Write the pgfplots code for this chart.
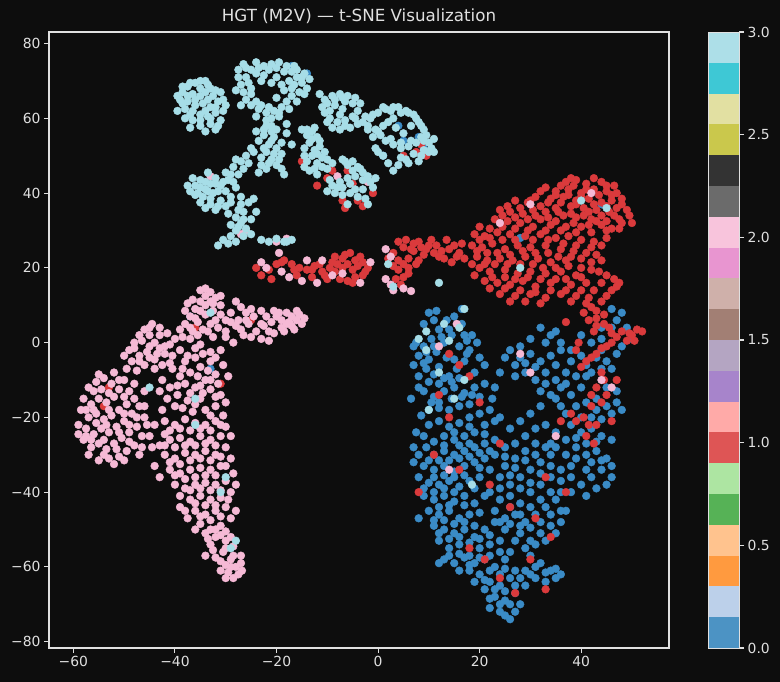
\documentclass[border=0pt]{standalone}
\usepackage{fontspec}
\setmainfont{DejaVu Sans}
\usepackage{pgfplots}
\pgfplotsset{compat=1.18}
\definecolor{bg}{HTML}{0D0D0D}
\definecolor{fg}{HTML}{E0E0E0}
\definecolor{cA}{HTML}{3A8BC6}
\definecolor{cB}{HTML}{DA3A3C}
\definecolor{cC}{HTML}{F5B9D5}
\definecolor{cD}{HTML}{A6DDE7}
\definecolor{k0}{HTML}{4C93C4}
\definecolor{k1}{HTML}{BCD0EA}
\definecolor{k2}{HTML}{FF9A3F}
\definecolor{k3}{HTML}{FFC38E}
\definecolor{k4}{HTML}{56B256}
\definecolor{k5}{HTML}{ADE5A2}
\definecolor{k6}{HTML}{DE5555}
\definecolor{k7}{HTML}{FFAAA8}
\definecolor{k8}{HTML}{A784CB}
\definecolor{k9}{HTML}{B4A5C2}
\definecolor{k10}{HTML}{A27F74}
\definecolor{k11}{HTML}{CFB0AA}
\definecolor{k12}{HTML}{E895D0}
\definecolor{k13}{HTML}{F8C4DC}
\definecolor{k14}{HTML}{6B6B6B}
\definecolor{k15}{HTML}{333333}
\definecolor{k16}{HTML}{CAC84C}
\definecolor{k17}{HTML}{E2E0A2}
\definecolor{k18}{HTML}{3EC8D5}
\definecolor{k19}{HTML}{ADDFE8}
\newcommand{\tickfont}{\fontsize{13.9bp}{16bp}\selectfont}
\pgfplotsset{
  dots/.style={only marks, mark=*, mark size=3.9bp, mark options={draw=#1, line width=0.4bp, fill=#1}},
}
\begin{document}
\begin{tikzpicture}
\fill[bg] (0,0) rectangle (780bp,682bp);
\useasboundingbox (0,0) rectangle (780bp,682bp);
\begin{axis}[
  at={(49bp,34bp)}, anchor=south west,
  scale only axis, width=620bp, height=616bp,
  xmin=-64.8, xmax=57.3, ymin=-81.7, ymax=83.1,
  axis background/.style={fill=bg},
  axis line style={fg, line width=1.1bp},
  tick style={fg, line width=1.1bp},
  tick align=outside, major tick length=4.9bp,
  xtick pos=left, ytick pos=left,
  xtick={-60,-40,-20,0,20,40},
  xticklabels={−60,−40,−20,0,20,40},
  ytick={-80,-60,-40,-20,0,20,40,60,80},
  yticklabels={−80,−60,−40,−20,0,20,40,60,80},
  ticklabel style={font=\tickfont, color=fg},
  title={HGT (M2V) — t-SNE Visualization},
  title style={font=\fontsize{16.7bp}{20bp}\selectfont, color=fg, yshift=-1bp},
  clip=false,
]
% class 0 (blue)
\addplot[dots=cA] coordinates {
(10,8)(11,6)(12,3.5)(10.5,1)(9,-1)(8,-3.5)(10,-4.5)(11.5,-2.5)(13,0)(14.5,2)(16,4.5)(15,7)(16.5,9)(13.5,-4)(12,-6.5)(9.5,-7)(8,-9)(10,-10.5)(12,-11)(14,-9)(15.5,-7)(17,-5)(18,-2)(19.5,0)(20,-4)(19,-8)
(9,-13)(11,-14.5)(13,-13)(15,-12)(17,-13.5)(19,-12)(21,-11)(20,-14.5)(18,-16.5)(16,-17)(14,-18)(12,-17.5)(10,-18)(8.5,-19.5)(10,-22)(12,-21)(14,-22.5)(16,-21.5)(18,-20)(20,-19)(22,-18)(21,-22)(19,-24)(17,-25)(15,-26)(13,-25)(11,-26.5)(9.5,-28)(11,-30)(13,-29)(15,-30)(17,-29)(19,-28)(21,-27)(23,-26)(7,-32)(9,-33)(11,-34)(13,-33)(15,-34.5)(17,-33)(19,-32)(21,-31)(8,-36)(10,-37.5)(12,-38)(14,-37)(16,-38.5)(18,-37)(20,-36)(9,-41)(11,-42)(13,-41)(15,-42.5)(17,-41)(19,-43)(21,-41)(10,-45)(12,-46)(14,-45)(16,-47)(18,-46)
(11,-49)(13,-50)(15,-51)(17,-50)(12,-53)(14,-55)(16,-54)(19,-52)(21,-50)(23,-48)(20,-55)(22,-54)(24,-53)(13,-58)(15,-59)(17,-57.5)(19,-59)(21,-58)(23,-60)(25,-58)(26,-56)(20,-62)(22,-64)(24,-65)(26,-63)(23,-68)(25,-69)(27,-67)(28,-70)(24,-72)(26,-74)(22,-71)(29,-65)(27,-61)(21,-66)(19,-64)(18,-61)
(23,-30)(25,-33)(27,-31)(29,-29)(31,-27)(24,-36)(26,-38)(28,-36)(30,-34)(32,-32)(34,-30)(22,-40)(24,-42)(26,-41)(28,-43)(30,-40)(32,-38)(34,-36)(36,-34)(23,-45)(25,-47)(27,-46)(29,-48)(31,-46)(33,-44)(35,-42)(37,-45)(28,-51)(30,-53)(32,-51)(34,-49)(36,-48)(30,-57)(32,-59)(34,-61)(33,-64)(35,-63)(29,-61)(31,-63)(26,-23)(28,-21)(30,-19)(32,-17)(24,-20)
(26,-2)(28,-4)(30,-3)(32,-5)(34,-3.5)(27,-6)(29,-8)(31,-10)(33,-8)(35,-6)(37,-8)(36,-12)(34,-14)(32,-13)(38,-14)(40,-12)(39,-9)(41,-6)(43,-4)(45,-5)(44,-2)(47,-3)(46,-7)(36,-17)(38,-22)(40,-24)(42,-23)(44,-25)(46,-26)(39,-28)(41,-30)(43,-29)(45,-31)(37,-30)(33,-22)(35,-24)(37,-26)(34,-27)(41,-16)(43,-18)(45,-17)(47,-16)(44,-34)(42,-36)(40,-38)(46,-36)(38,-40)(36,-40)
(40,2)(42,0)(44,4)(47,6)(49,4)(46,9)(34,2)(36,0)(38,-2)(30,1)(32,4)(48,-1)(50,1)(16.5,5)(17,2)(17.5,0.5)(7.5,0)
(9,5)(11.5,8.5)(13.5,6)(14,3.5)(12.5,1.5)(11,-1)(9,-5.5)(7,-6)(11,-8.5)(13,-9.5)(15,-4.5)(16,-1)(17.5,-3)(18.5,2)(21,-6)(16,-9.5)(14.5,-10.5)(8,-12)(6.5,-15)(10.5,-16)(7.5,-24)(9,-25)(7,-28)(8,-30)
(12,-16)(14.5,-15)(16.5,-14.5)(18.5,-14)(22.5,-15)(23,-21)(21,-24.5)(18,-22.5)(15,-24)(13,-27.5)(16,-27.5)(18,-27)(20,-29.5)(22,-29)(10,-31.5)(12,-31.5)(14,-31.5)(16,-31)(18,-30.5)(20,-33.5)(22,-34)(11,-36)(13,-35.5)(15,-36)(17,-35.5)(19,-39)(9,-39)(11,-40)(13,-39)(15,-40)(17,-43.5)(14,-43.5)(12,-44)(20,-45.5)(8,-47)(11,-47.5)(13,-47.5)(15,-48.5)(17,-48)(19,-49)
(12,-51)(14,-52.5)(16,-52)(18,-53.5)(20,-52.5)(22,-51.5)(25,-50)(14,-57)(16,-56.5)(18,-57)(20,-57.5)(22,-57)(24,-56)(16,-61)(12,-59)(18,-59.5)(22,-61)(24,-62)(25,-60.5)(21,-63.5)(23,-66)(25,-66.5)(27,-65)(26,-70)(24,-70)(22,-68.5)(27,-72)(25,-73)(28,-63)(30,-62)
(25,-28)(27,-27)(29,-25)(31,-23)(25,-30.5)(27,-33.5)(29,-31.5)(31,-30)(33,-28)(35,-28)(26,-35.5)(28,-39)(30,-37.5)(32,-35)(34,-33)(24,-39)(26,-44)(28,-46)(30,-44)(32,-42)(34,-40)(36,-37)(38,-36)(24,-48)(26,-48.5)(28,-49)(30,-49.5)(32,-48)(34,-46)(36,-45)(27,-53)(29,-55)(31,-54)(33,-53)(35,-51)(31,-60)(33,-61.5)(35,-60.5)(36,-62)
(27,-9)(29,-5.5)(31,-6.5)(33,-11)(35,-10)(37,-11)(35,-15)(37,-19)(39,-17)(40,-20)(42,-20)(44,-20.5)(39,-25.5)(41,-27)(43,-26.5)(42,-32)(44,-31.5)(46,-33)(39,-31)(41,-34)(38,-33)(43,-39)(41,-41)(45,-38)(36,-2)(38,-5)(40,-3.5)(42,-8)(44,-7)(45,-12)(47,-13)(46,-19)(48,-18)(41,-9)(43,-15)(33,0)(35,3)(28,-1)(25,-4)(24,-8)(23,-12)
(9.5,-2.5)(7,-1)(44,1)(46,4)(48,8)
(-17,74)(-14,72)(4,58)(5,54)(8,55)(9,52)(1,50)(-37,7)(-33,-7)(44,37)(28,28)
};
% class 1 (red)
\addplot[dots=cB] coordinates {
(-20,21)(-18.5,22)(-17,21)(-15.5,20)(-14,19.5)(-12.5,20.5)(-11,19)(-9.5,20)(-8,21)(-7,22.5)(-6,21)(-5,19.5)(-4,20.5)(-3,21.5)(-2.5,19)(-4.5,17.5)(-6,16.5)(-10,17)(-13,17.5)(-16,18)(-8.5,23)(-5.5,24)(-24,20)(-21,17)
(-19,21.5)(-16.5,19.5)(-13,19.5)(-11.5,21)(-10.5,18)(-8.5,19)(-7,20)(-4.5,22)(-2,20)(-3,18)(-5,16)(-7.5,17)(-21.5,19.5)(-23,18)(-9,21.5)(-6.5,23.5)(-3.5,23)
(-9,46)(-5,42.5)(-7,38)(-4,38)(-6.5,36)(-1,40)(-3,36.5)(-10,44)(-15,48.5)(7.5,51)(8.5,53)(9.5,50)(5,50)(-12,42)(-6,46)
(4,27)(5.5,27.5)(7,26.5)(8,27)(9.5,25)(10.5,27.5)(11.5,26)(12.5,24.5)(13.5,27.5)(15,26)(16,24)(7,24.5)(6,22.5)(5,21)(4,19.5)(3.5,17)(4.5,15.5)(6,20)(8,22)(3,24)(2,22.5)(14.5,21.5)(13,22.5)(17,22.5)
(5,25.5)(6.5,25)(8.5,25.5)(9,23.5)(10,26)(11,24)(12,23)(14,25)(15.5,23)(16.5,26.5)(6,18.5)(5,17.5)(4,22)(3,20.5)(7.5,21)
(37,43)(39,43.5)(41,42.5)(44,43)(46.5,42)
(35,40.5)(37.5,41)(40,40)(42.5,41)(45,40.5)(47,40)(33,41.5)
(31,39)(34,38.5)(36.5,39)(39,38)(41.5,38.5)(44,37.5)(46,38)(48,37)
(27,38)(29.5,37.5)(32,36.5)(35,36)(38,36.5)(40.5,36)(43,35.5)(45.5,35)(49,35.5)
(24,35.5)(26,35)(28.5,34.5)(31,34)(33.5,33.5)(36.5,34)(39,33.5)(42,33)(47.5,33)
(23,33)(25.5,32.5)(28,32)(30.5,31)(34,31.5)(37,31)(40,31)(44,31.5)(46,30.5)(50,32)
(19,29)(21,28.5)(23.5,29.5)(26,29)(29,28.5)(32,29)(35,28)(37.5,28.5)(40,27.5)(42.5,27)(45,28)
(18.5,26)(20.5,25.5)(22.5,26.5)(25,25)(27.5,26)(30,25.5)(33,26)(36,25)(38.5,24.5)(41,24)
(19.5,23)(21.5,22)(24,22.5)(26.5,22)(29,23)(31.5,22.5)(34,21.5)(37,22)(42,21.5)(44,22)
(20,20)(22,19)(25,19.5)(27.5,18.5)(30,19)(33,18.5)(36,19)(39,18)(43.5,19)
(21,16.5)(23.5,16)(26,15.5)(28.5,16.5)(31,15)(34,16)(38,15.5)(41,16)
(24,13)(27,12.5)(30,13)(33,12)(36,13)
(38,44)(42.5,44)(45,42)(36,42)(38.5,42)(41,41)(43.5,39.5)(46,39.5)(48,38.5)(32,40.5)(35,39.5)(37.5,39.5)(40,39)(42.5,37)(45,36.5)(47,36)(30,38)(33.5,37.5)(36,37.5)(39,37)(41.5,35)(44,34)(46.5,34)(49.5,34)(25.5,36.5)(28,36)(30.5,35.5)(33,35)(35.5,35)(38,34.5)(40.5,34)(43,32.5)(45,32.5)(48,32)(24.5,34)(27,33.5)(29.5,33)(32,33)(35,32.5)(38.5,32)(41.5,31.5)(47.5,30.5)
(20,31)(22,30.5)(24.5,31)(27,30.5)(29.5,30)(33,30)(36,30)(39,29.5)(42,29.5)(45,30)(20,27.5)(22,28)(24.5,27.5)(27,27.5)(30.5,27.5)(33.5,27.5)(36.5,26.5)(39,26)(42,25.5)(44,26)(19.5,24.5)(21.5,24)(23.5,24)(26,23.5)(28.5,24.5)(31,24)(33.5,24)(35.5,23)(38,23)(40,22.5)(43,23.5)
(18.5,21)(21,21)(23,21)(25.5,21)(28,21)(30.5,21)(32.5,20)(35,20)(37.5,20.5)(40,20)(42,19.5)(19,18)(22.5,17.5)(25,17.5)(27,17)(29.5,17.5)(32,17)(35,17)(37,17)(40,17.5)(22,14.5)(25,14.5)(28,14)(31,13.5)(34,14)(37,14)(26,11)(29,11)(32,10.5)
(40,14)(41.5,12)(42,9.5)(40.5,8)(43,6.5)(44.5,5)(42.5,3)(46,2.5)(48,3)(50,2)(51,3.5)(49,0.5)(45,-1)(43,-3)(41,-5)(39,-2)(44,11)(46,14)(47.5,16)(45,18)(38,11)(37,5.5)
(41,10.5)(43,8.5)(44.5,7.5)(41.5,6)(43,4.5)(45.5,4)(47,1.5)(49.5,2.5)(52,3)(50.5,0.5)(46,0)(44,-1.5)(42,-4)(40,-6.5)(39.5,0)(45,12.5)(47,15)(46.5,17)(44,16)(39,12.5)(42.5,14)
(44,-8)(43,-12)(45,-14)(42,-17)(40.5,-20)(43,-22)(41,-25)(38,-19)(36,-21)(46,-21)(47,-10)
(44.5,-10)(42,-14)(44,-16)(41.5,-22)(39,-21)(42.5,-27)
(12,-14)(14,-20)(18,-9)(20,-16)(11,-30)(8,-40)(16,-34)(22,-38)(26,-44)(31,-47)(34,-52)(37,-40)(33,-36)(18,-55)(24,-63)(27,-67)(33,-66)(21,-58)(30,-58)(14,-3)(16,-6)(24,-27)
(-53,-12)(-54,-17)(-36,4)(-31,-11)(-25,6)
};
% class 2 (pink)
\addplot[dots=cC] coordinates {
(-38,5)(-37,7)(-36,9)(-35,11)(-34,12.5)(-33,13.5)(-32,12)(-31,10)(-32.5,8.5)(-34,7.5)(-35.5,5.5)(-36.5,3)(-34.5,3.5)(-33,5)(-31.5,4)(-30,6)(-29,8)(-28,4.5)(-30,1.5)(-32.5,1.5)(-37.5,10.5)(-38.5,1.5)(-35,14)
(-37,4)(-36,6.5)(-35,8.5)(-34,10)(-32.5,10.5)(-31,7.5)(-32,6)(-33.5,3)(-35.5,2)(-37,1)(-29,5.5)(-30,3)(-31,12.5)(-33,11)(-36.5,11.5)(-38,8.5)(-39,3.5)(-34,14.5)
(-28,11)(-27,9.5)(-26,8)(-24.5,7)(-25.5,5)(-27,3.5)(-24,3)(-22,7)(-21,5.5)(-20,7)(-19,6)(-18,5)(-17,7)(-16,6)(-15,5)(-16.5,3.5)(-18.5,3)(-20.5,2.5)(-21.5,0.5)(-23,1)(-19.5,8)(-14.5,6.5)(-28.5,0)
(-27.5,6)(-26,6)(-25,9)(-23,8.5)(-23,5)(-21.5,3)(-22.5,4.5)(-19,4)(-17.5,5.5)(-15.5,7.5)(-17,4.5)(-20.5,8.5)(-18,8)(-16,8.5)(-25,1.5)(-26.5,2)
(-49,-2)(-48,0)(-47,2)(-46,3.5)(-45,2)(-44,0)(-43,-1.5)(-45.5,-2.5)(-47,-3.5)(-48.5,-5)(-46,-6)(-44,-4.5)(-42,-3)(-41,-0.5)(-40,1)(-41.5,2.5)(-43,4)(-44.5,5)(-50,-3.5)(-42.5,-6)
(-48,-1.5)(-46.5,0.5)(-45,-1)(-47,-5)(-45,-4)(-43.5,-3)(-42,-1)(-43,2)(-45,4)(-40.5,-3.5)(-41,-5.5)(-44,-7)(-47.5,-7.5)(-49.5,-7)
(-39,-2)(-37.5,-3.5)(-36,-1.5)(-34.5,-3)(-33,-5)(-35,-6.5)(-37,-8)(-39,-9)(-40.5,-7)(-38,-11)(-36,-12)(-34,-10)(-32,-8.5)(-30.5,-6)(-31,-2)(-33,-12.5)(-35,-15)(-37.5,-15.5)(-39.5,-14)(-41,-12)(-42.5,-10)(-31,-14)(-34,-18)(-36.5,-18.5)(-40,-17)(-32,-17)
(-38,-5)(-36,-4)(-35,-0.5)(-33,-2.5)(-32,-4)(-33.5,-7.5)(-35.5,-9)(-38.5,-7)(-39.5,-11.5)(-37,-13.5)(-35,-11.5)(-33,-10)(-31.5,-11)(-29.5,-9)(-30,-16)(-32,-14.5)(-34.5,-13.5)(-36,-16.5)(-38.5,-17.5)(-41.5,-15)(-42.5,-18)(-33,-19.5)(-30.5,-19.5)(-43,-13)
(-57,-12)(-55.5,-10.5)(-54,-9.5)(-52.5,-11)(-51,-12.5)(-52,-14.5)(-53.5,-16)(-55,-15)(-56.5,-16.5)(-58,-15)(-58.5,-18)(-57,-20)(-55.5,-19)(-54,-20.5)(-52.5,-19.5)(-51,-18)(-49.5,-16.5)(-48,-15)(-47,-17)(-48.5,-19)(-50,-21)(-51.5,-22.5)(-53,-24)(-54.5,-23)(-56,-24.5)(-57.5,-23)(-59,-22)(-58,-26)(-56.5,-28)(-55,-27)(-53.5,-28.5)(-52,-27)(-50.5,-25.5)(-49,-24)(-47.5,-22.5)(-46,-20)(-48,-27.5)(-49.5,-29)(-51,-30.5)(-53,-31)(-55,-31.5)(-47,-30)(-45,-25)(-44,-22)(-46,-13)(-50,-10)(-52,-8)
(-56,-13)(-54.5,-12.5)(-53,-13.5)(-50,-14.5)(-49,-13)(-56,-18)(-57.5,-18)(-53,-18)(-50,-19)(-47.5,-20)(-49,-22)(-51,-24)(-53.5,-22)(-55.5,-21.5)(-57.5,-25)(-59,-24.5)(-56.5,-26)(-54,-26)(-51.5,-28.5)(-49,-26.5)(-46.5,-25)(-50,-31.5)(-52,-32.5)(-54,-30)(-57,-30)(-46.5,-28)(-45.5,-22)(-44.5,-28)(-46,-17)(-48,-11)(-51,-10)(-55,-8.5)
(-42,-21)(-40,-22)(-38,-20.5)(-36,-21.5)(-34,-22)(-32,-21)(-30,-22.5)(-31,-25)(-33,-26)(-35,-25)(-37,-26.5)(-39,-25.5)(-41,-26)(-43,-27.5)(-42,-30)(-40,-31)(-38,-29.5)(-36,-30)(-34,-29)(-32,-30)(-30,-28)(-29,-31)(-31,-33)(-33,-34)(-35,-33.5)(-37,-34)(-39,-35)(-41,-34)(-40,-38)(-38,-39)(-36,-38)(-34,-37.5)(-32,-38)(-30,-37)(-29,-40)(-31,-41.5)(-33,-42)(-35,-41)(-37,-42)(-36,-45)(-34,-46)(-32,-45)(-30,-44)(-29,-47)(-31,-49)(-33,-50)(-35,-48.5)(-37.5,-47)(-39,-44)(-28.5,-35)(-44,-33)
(-41,-23.5)(-39,-23)(-37,-23.5)(-35,-23)(-33,-23.5)(-31,-22)(-29,-25)(-32,-27.5)(-34,-27)(-36,-27.5)(-38,-27.5)(-40,-28)(-42,-27.5)(-41,-32)(-39,-32.5)(-37,-31.5)(-35,-31)(-33,-31.5)(-31,-30.5)(-30,-33)(-32,-35.5)(-34,-35.5)(-36,-36)(-38,-36.5)(-40,-35.5)(-39,-41)(-37,-39.5)(-35,-39)(-33,-39.5)(-31,-39.5)(-29.5,-42)(-32,-43.5)(-34,-43.5)(-36,-43)(-38,-45)(-35,-46.5)(-33,-47.5)(-31,-46.5)(-30,-50.5)(-32,-50)(-34,-51)(-36,-50)(-28,-45)(-28,-38)(-42,-24.5)(-43,-36)
(-32,-52)(-30,-53)(-28.5,-54.5)(-30.5,-56)(-32.5,-55.5)(-34,-57)(-31,-58.5)(-29,-58)(-28,-60)(-27.5,-62)(-29.5,-61.5)(-28.5,-63)(-30,-63)(-27,-57)(-33,-54)
(-31,-51.5)(-29,-52)(-30,-55)(-32,-57.5)(-30,-59.5)(-28.5,-57)(-27,-59)(-29,-60)(-31,-61)(-26.8,-61)(-33.5,-52.5)
(-23,21.5)(-22,20)(-19,19)(-17.5,17.5)(-15,16.5)(-12,16)(-9,18)(-7,18.5)(-11,22)(-14,22)(-19.5,24)(-3.5,16)(-1.5,21.5)
(1.5,25)(2.5,23)(1.5,17)(2.5,15.5)(3,14)(5,14.5)(6.5,13.8)
(-8,44.5)(-2,43)(-26,30)(-27,29)(-20,27)(-18,27.8)(-33,44.5)
(42,40)(24,32)(30,37)(12,-1)(28,-3)(30,-8)(44,-10)(46,-12)(14,-34)(35,-25)(15.5,5)
};
% class 3 (light cyan)
\addplot[dots=cD] coordinates {
(-39.5,66)(-38.5,67)(-37.5,68.5)(-36,69.5)(-35,68)(-34,67)(-33,68)(-32.5,66)(-31.5,64.5)(-33,63)(-34.5,64)(-36,65)(-37.5,64.5)(-39,65)(-38,62.5)(-36.5,62)(-35,61)(-33.5,60.5)(-32,61.5)(-30.5,62)(-31,59.5)(-33,58.5)(-35,58)(-36.5,59.5)(-38,60)(-34,56.5)(-32,57)(-37,57.5)(-36.5,66.5)(-34,70)(-31,67)(-30,63.5)
(-38.5,68.5)(-37,69.5)(-35,70)(-33.5,69)(-32,67.5)(-35,66)(-33.5,65)(-37.5,66)(-38.5,64)(-36,63.5)(-34,62)(-32,63)(-30.5,65)(-37,61)(-35,59.5)(-33,60)(-31.5,58)(-39.5,62)
(-27.5,73)(-26.5,74.5)(-25,73)(-24,75)(-22.5,74)(-21,74.5)(-19.5,75)(-18,74)(-17,72.5)(-16,71)(-15,69.5)(-14,68)(-15.5,67)(-17,66)(-18,64.5)(-19,63)(-20.5,62)(-22,61.5)(-23.5,62.5)(-25,63.5)(-26,65)(-26.5,67)(-27,69)(-26,71)(-25.5,69.5)(-20,71)(-19,69)(-18.5,67.5)(-21,69.5)(-22.5,71.5)(-24,72)(-16.5,74)(-14.5,72)(-13.5,70.5)(-17.5,70)(-23,63.5)(-21,60)(-19.5,60.5)(-18,58.5)
(-26,73.5)(-23.5,73.5)(-21.5,73)(-20,73.5)(-18.5,72.5)(-16,73)(-15,71)(-16.5,69)(-14.5,66.5)(-16,64.5)(-17.5,62.5)(-19.5,61.5)(-21.5,63)(-24,64.5)(-25,66.5)(-25,68)(-27.5,71)(-28,67.5)(-27,63.5)(-24,60.5)(-22,59.5)(-20,65.5)(-17,68)(-23,70)
(-22,58)(-21,56.5)(-20.5,55)(-22.5,55.5)(-23.5,54)(-21.5,53)(-20,52)(-19,53.5)(-22,51)(-23,49.5)(-21,49)(-20,47.5)(-22,46.5)(-23.5,45.5)(-19,50.5)(-18,56)(-17,53)(-18.5,45)
(-21,58)(-22.5,57)(-20,57)(-21,54)(-22.5,52)(-20.5,50.5)(-21.5,48)(-19.5,49)(-23,47.5)(-24.5,51)(-19,46.5)(-24,56.5)
(-36,42)(-35,43.5)(-34,41)(-33,42.5)(-32,44)(-31,42)(-30,40.5)(-32.5,40)(-34.5,39)(-36,39.5)(-35,37.5)(-33,37)(-31,38)(-29,39)(-28,41.5)(-29.5,43.5)(-30,45.5)(-28.5,47)(-27,48.5)(-26,50)(-27.5,45)(-33.5,45.5)(-37,40.5)(-32,35.5)(-30,36.5)
(-35,41.5)(-33.5,40.5)(-31.5,40.5)(-30.5,43)(-32,42.5)(-34,43)(-36.5,44)(-35.5,40)(-33,38.5)(-31.5,36.5)(-29,37.5)(-28.5,43)(-29,45)(-28,49)(-26.5,46.5)(-25.5,48)(-37.5,42)(-34,36)(-29.5,34.5)(-27,39)(-25,52)
(-27,37)(-26.5,35)(-28,33.5)(-27,32)(-26,30.5)(-28,30)(-29,28.5)(-30.5,27.5)(-28,27)(-26.5,28.5)(-25,33)(-25.5,37.5)(-31.5,26)
(-27.5,35.5)(-27.5,31)(-26.5,33)(-29,31.5)(-25,29)(-29.5,26.5)(-24,35)(-24.5,38.5)
(-23,27.5)(-21.5,27)(-20,27.8)(-18.5,27)(-17,27.5)
(-15,57)(-14,55.5)(-13,56.5)(-12,55)(-13.5,53.5)(-14.5,52)(-12.5,51.5)(-11.5,52.5)(-13,50)(-14,48.5)(-12,48)(-11,49.5)(-10.5,51)(-13.5,46)(-12,45)(-10,46.5)(-9,48)
(-14,57)(-12.5,57.5)(-13,54.5)(-11.5,54)(-12,50.5)(-14.5,50)(-11,47)(-12.5,46.5)(-14.5,47)(-10,49)
(-10.5,65)(-9,66)(-7.5,66.5)(-6,66)(-4.5,65.5)(-3.5,64)(-4,62)(-5,60.5)(-6.5,59.5)(-8,59)(-9.5,60)(-10.5,61.5)(-11,63)(-8.5,63.5)(-7,62.5)(-5.5,57.5)(-7.5,57)(-9,57.5)(-3,59)(-2,57)(-11.5,66.5)
(-10,64)(-8.5,65)(-6.5,64.5)(-5,64)(-4.5,60)(-7.5,61)(-9.5,62)(-10,59)(-6.5,58)(-4,58.5)(-2.5,60.5)(-7,65.5)
(-7,49)(-6,47.5)(-5,48.5)(-4,47)(-3,45.5)(-4.5,44.5)(-6,44)(-7.5,43)(-9,42)(-10,40.5)(-8.5,40)(-7,39.5)(-5.5,40)(-4,39)(-2.5,38.5)(-3,41)(-1.5,43)(-2,37)(-6,37)
(-6.5,48.5)(-5,46)(-3.5,46.5)(-2,44.5)(-3,43.5)(-5.5,42.5)(-7,41.5)(-8,41.5)(-9.5,43.5)(-4.5,41)(-1,41.5)(-0.5,44)
(-1.5,60)(0,61.5)(1,63)(2.5,62)(4,63)(5.5,62)(7,61)(8,59)(9,57)(8.5,55)(7.5,53.5)(6,52.5)(4.5,52)(3,53)(1.5,54)(0.5,55.5)(-0.5,57)(-2,58)(2,59)(3.5,57.5)(5,56)(10,53.5)(9,51.5)(7,50.5)(5.5,49)(4,47.5)(3,46)(-0.5,52)(1,50)(10.5,52)(8,48.5)
(-1,61)(1.5,62.5)(3,63)(4.5,61.5)(6,61.5)(7.5,60)(8.5,58)(9.5,55.5)(9,54)(6.5,54)(4.5,53.5)(2.5,54.5)(0,56.5)(-1,55)(1,58)(3,60)(6.5,58)(10,51)(8.5,50)(6,48)(4.5,49.5)(2,48)(0,51)(11,54.5)(11,51)
(8,1)(9.5,-2)(9.5,3)(13,5)(14,0.5)(12,-8)(15,-15)(10,-18)(17,-10)(18.5,-38)(17,9)(16,4)(28,20)(40,38)(45,36)(-33,8)(-36,-15)(-30,-36)(-36,-22)(-28,-53)(-29,-55)(-31,-40)(-18,27)(2,21)(3,15)(12,16)(-45,-12)
};
\end{axis}
\begin{axis}[
  at={(708bp,34bp)}, anchor=south west,
  scale only axis, width=31.3bp, height=616bp,
  xmin=0, xmax=1, ymin=0, ymax=3,
  xtick=\empty,
  ytick={0,0.5,1,1.5,2,2.5,3},
  yticklabels={0.0,0.5,1.0,1.5,2.0,2.5,3.0},
  ytick pos=right, yticklabel pos=right,
  tick align=outside, major tick length=4.9bp,
  axis line style={fg, line width=0.8bp},
  tick style={fg, line width=1.1bp},
  ticklabel style={font=\tickfont, color=fg},
  axis on top,
]
\addplot[fill=k0, draw=none] coordinates {(0,0)(1,0)(1,0.15)(0,0.15)} -- cycle;
\addplot[fill=k1, draw=none] coordinates {(0,0.15)(1,0.15)(1,0.3)(0,0.3)} -- cycle;
\addplot[fill=k2, draw=none] coordinates {(0,0.3)(1,0.3)(1,0.45)(0,0.45)} -- cycle;
\addplot[fill=k3, draw=none] coordinates {(0,0.45)(1,0.45)(1,0.6)(0,0.6)} -- cycle;
\addplot[fill=k4, draw=none] coordinates {(0,0.6)(1,0.6)(1,0.75)(0,0.75)} -- cycle;
\addplot[fill=k5, draw=none] coordinates {(0,0.75)(1,0.75)(1,0.9)(0,0.9)} -- cycle;
\addplot[fill=k6, draw=none] coordinates {(0,0.9)(1,0.9)(1,1.05)(0,1.05)} -- cycle;
\addplot[fill=k7, draw=none] coordinates {(0,1.05)(1,1.05)(1,1.2)(0,1.2)} -- cycle;
\addplot[fill=k8, draw=none] coordinates {(0,1.2)(1,1.2)(1,1.35)(0,1.35)} -- cycle;
\addplot[fill=k9, draw=none] coordinates {(0,1.35)(1,1.35)(1,1.5)(0,1.5)} -- cycle;
\addplot[fill=k10, draw=none] coordinates {(0,1.5)(1,1.5)(1,1.65)(0,1.65)} -- cycle;
\addplot[fill=k11, draw=none] coordinates {(0,1.65)(1,1.65)(1,1.8)(0,1.8)} -- cycle;
\addplot[fill=k12, draw=none] coordinates {(0,1.8)(1,1.8)(1,1.95)(0,1.95)} -- cycle;
\addplot[fill=k13, draw=none] coordinates {(0,1.95)(1,1.95)(1,2.1)(0,2.1)} -- cycle;
\addplot[fill=k14, draw=none] coordinates {(0,2.1)(1,2.1)(1,2.25)(0,2.25)} -- cycle;
\addplot[fill=k15, draw=none] coordinates {(0,2.25)(1,2.25)(1,2.4)(0,2.4)} -- cycle;
\addplot[fill=k16, draw=none] coordinates {(0,2.4)(1,2.4)(1,2.55)(0,2.55)} -- cycle;
\addplot[fill=k17, draw=none] coordinates {(0,2.55)(1,2.55)(1,2.7)(0,2.7)} -- cycle;
\addplot[fill=k18, draw=none] coordinates {(0,2.7)(1,2.7)(1,2.85)(0,2.85)} -- cycle;
\addplot[fill=k19, draw=none] coordinates {(0,2.85)(1,2.85)(1,3)(0,3)} -- cycle;
\end{axis}
\end{tikzpicture}
\end{document}
